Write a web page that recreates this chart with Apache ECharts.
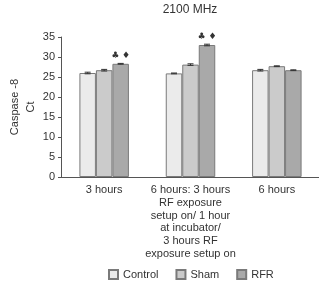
<!DOCTYPE html>
<html>
<head>
<meta charset="utf-8">
<script src="https://cdn.jsdelivr.net/npm/echarts@6/dist/echarts.min.js"></script>
<style>
  html, body { margin: 0; padding: 0; background: #fff; }
  #chart { width: 319px; height: 282px; }
</style>
</head>
<body>
<div id="chart"></div>
<script>
// categories along x
const categories = [
  "3 hours",
  "6 hours: 3 hours\nRF exposure\nsetup on/ 1 hour\nat incubator/\n3 hours RF\nexposure setup on",
  "6 hours"
];
const seriesNames = ["Control", "Sham", "RFR"];
const controlValues = [26.0, 25.9, 26.7];
const shamValues = [26.7, 28.1, 27.7];
const rfrValues = [28.3, 33.0, 26.7];
const controlErr = [0.2, 0.1, 0.2];
const shamErr = [0.2, 0.2, 0.1];
const rfrErr = [0.1, 0.2, 0.1];
const rfrMarks = ["\u2663 \u2666", "\u2663 \u2666", ""];
const yTicks = [0, 5, 10, 15, 20, 25, 30, 35];

const colors = ["#ebebeb", "#cbcbcb", "#a9a9a9"];
const BAR_W = 16.5;
const font = "Liberation Sans";

const chart = echarts.init(document.getElementById("chart"));

const allValues = [controlValues, shamValues, rfrValues];
const allErr = [controlErr, shamErr, rfrErr];

function barSeries(i) {
  const s = {
    name: seriesNames[i],
    type: "bar",
    data: allValues[i],
    barWidth: BAR_W,
    barGap: "0%",
    itemStyle: { color: colors[i], borderColor: "#7a7a7a", borderWidth: 1 },
    emphasis: { disabled: true }
  };
  if (i === 2) {
    s.label = {
      show: true,
      position: "top",
      distance: 4,
      fontSize: 9,
      color: "#333",
      fontFamily: "DejaVu Sans",
      formatter: p => rfrMarks[p.dataIndex]
    };
  }
  return s;
}

// small error bars, drawn over the matching bar
function errSeries(i) {
  const data = allValues[i].map((v, k) => [k, v, allErr[i][k]]);
  return {
    type: "custom",
    silent: true,
    z: 5,
    data: data,
    renderItem: function (params, api) {
      const c = api.value(0);
      const v = api.value(1);
      const e = api.value(2);
      const off = (i - 1) * BAR_W;
      const hi = api.coord([c, v + e]);
      const lo = api.coord([c, v - e]);
      const x = hi[0] + off;
      const st = { stroke: "#333", lineWidth: 1 };
      return {
        type: "group",
        children: [
          { type: "line", shape: { x1: x, y1: hi[1], x2: x, y2: lo[1] }, style: st },
          { type: "line", shape: { x1: x - 3, y1: hi[1], x2: x + 3, y2: hi[1] }, style: st },
          { type: "line", shape: { x1: x - 3, y1: lo[1], x2: x + 3, y2: lo[1] }, style: st }
        ]
      };
    }
  };
}

chart.setOption({
  animation: false,
  title: {
    text: "2100 MHz",
    left: 185,
    textAlign: "center",
    top: -1,
    textStyle: { fontFamily: font, fontSize: 12, fontWeight: "normal", color: "#333" }
  },
  legend: {
    data: seriesNames,
    top: 269,
    left: 108,
    icon: "rect",
    itemWidth: 9,
    itemHeight: 9,
    itemGap: 17,
    padding: 0,
    textStyle: { fontFamily: font, fontSize: 11, color: "#333" }
  },
  grid: { left: 61, right: -1, top: 37, bottom: 105, outerBoundsMode: "none" },
  xAxis: {
    type: "category",
    data: categories,
    axisLine: { lineStyle: { color: "#555" } },
    axisTick: { show: false },
    axisLabel: {
      interval: 0,
      fontFamily: font,
      fontSize: 11,
      color: "#333",
      lineHeight: 12.7,
      margin: 7
    }
  },
  yAxis: {
    type: "value",
    min: yTicks[0],
    max: yTicks[yTicks.length - 1],
    interval: 5,
    name: "Caspase -8\nCt",
    nameLocation: "middle",
    nameGap: 22,
    nameMoveOverlap: false,
    nameTextStyle: { fontFamily: font, fontSize: 11, color: "#333", lineHeight: 16 },
    axisLine: { show: true, lineStyle: { color: "#555" } },
    axisTick: { show: true, length: 3, lineStyle: { color: "#555" } },
    splitLine: { show: false },
    axisLabel: { fontFamily: font, fontSize: 11, color: "#333", margin: 6 }
  },
  series: [0, 1, 2].map(barSeries).concat([0, 1, 2].map(errSeries))
});
</script>
</body>
</html>
